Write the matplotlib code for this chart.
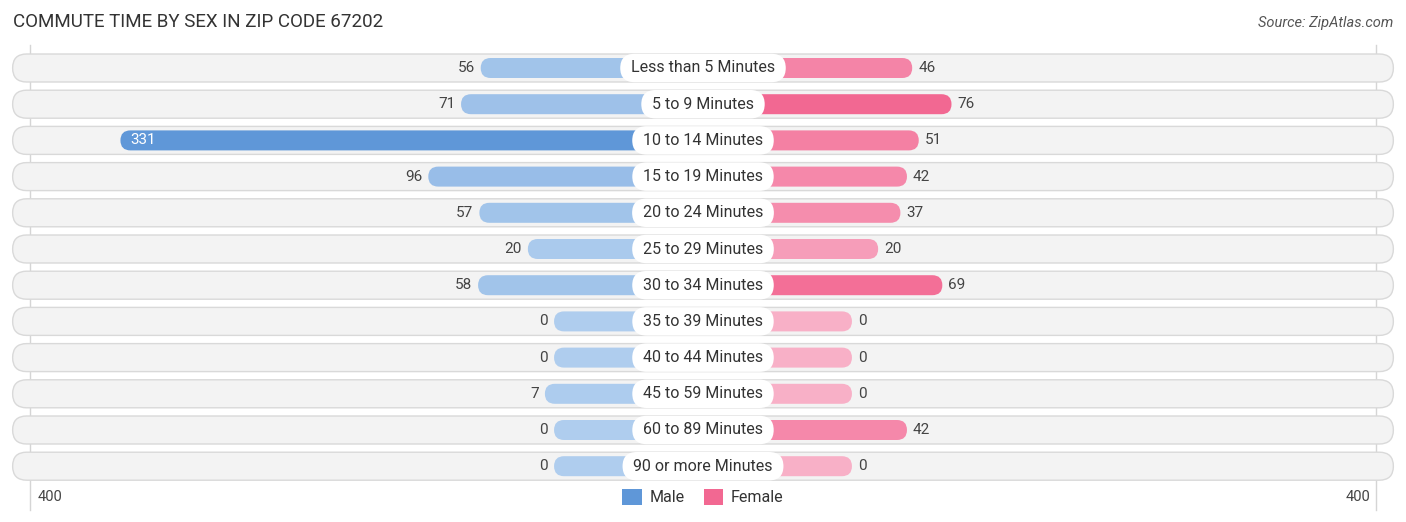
import matplotlib
matplotlib.use('Agg')
import matplotlib.pyplot as plt
from matplotlib.patches import FancyBboxPatch, Patch
import matplotlib.colors as mcolors
import numpy as np

plt.rcParams['font.family'] = ['Roboto', 'DejaVu Sans']

categories = ['Less than 5 Minutes', '5 to 9 Minutes', '10 to 14 Minutes', '15 to 19 Minutes',
              '20 to 24 Minutes', '25 to 29 Minutes', '30 to 34 Minutes', '35 to 39 Minutes',
              '40 to 44 Minutes', '45 to 59 Minutes', '60 to 89 Minutes', '90 or more Minutes']
male = [56, 71, 331, 96, 57, 20, 58, 0, 0, 7, 0, 0]
female = [46, 76, 51, 42, 37, 20, 69, 0, 0, 0, 42, 0]
axis_max = 400

W, H = 1406, 522
PX = 1.31          # pixels per value unit
PAD = 113.7        # min bar length (units) hidden under the label pill
HALF = (W / 2) / PX

M_LIGHT, M_STRONG = '#afcdee', '#5f97d8'
F_LIGHT, F_STRONG = '#f8b0c7', '#f26892'


def shade(light, strong, t):
    a = np.array(mcolors.to_rgb(light))
    b = np.array(mcolors.to_rgb(strong))
    return a + (b - a) * t


fig = plt.figure(figsize=(W / 100, H / 100), dpi=100)
ax = fig.add_axes([0, 0, 1, 1])
ax.set_xlim(-HALF, HALF)
ax.set_ylim(H, 0)
ax.axis('off')

row_y = [68 + i * 36.2 for i in range(len(categories))]
row_h, bar_h = 28, 20
r_px = 10
asp = PX  # y units per x unit (both measured in pixels)

# grid lines at +-400
for sgn in (-1, 1):
    ax.plot([sgn * (PAD + axis_max)] * 2, [45, 510], color='#d5d5d5', lw=1, zorder=0.5)

mmax, fmax = max(male), max(female)
for i, (cat, m, f) in enumerate(zip(categories, male, female)):
    yc = row_y[i]
    bg_half = 527
    bg = FancyBboxPatch((-bg_half, yc - row_h / 2), 2 * bg_half, row_h,
                        boxstyle=f'round,pad=0,rounding_size={row_h / 2 / PX}',
                        mutation_aspect=asp, fc='#f3f3f3', ec='#d9d9d9', lw=1, zorder=1)
    ax.add_patch(bg)

    ml = PAD + m
    mb = FancyBboxPatch((-ml, yc - bar_h / 2), ml, bar_h,
                        boxstyle=f'round,pad=0,rounding_size={r_px / PX}',
                        mutation_aspect=asp, fc=shade(M_LIGHT, M_STRONG, m / mmax),
                        ec='none', zorder=2)
    ax.add_patch(mb)
    fl = PAD + f
    fb = FancyBboxPatch((0, yc - bar_h / 2), fl, bar_h,
                        boxstyle=f'round,pad=0,rounding_size={r_px / PX}',
                        mutation_aspect=asp, fc=shade(F_LIGHT, F_STRONG, f / fmax),
                        ec='none', zorder=2)
    ax.add_patch(fb)

    if m > 250:
        ax.text(-ml + 10 / PX, yc, str(m), ha='left', va='center', fontsize=11,
                color='white', zorder=4)
    else:
        ax.text(-ml - 6 / PX, yc, str(m), ha='right', va='center', fontsize=11,
                color='#444444', zorder=4)
    ax.text(fl + 6 / PX, yc, str(f), ha='left', va='center', fontsize=11,
            color='#444444', zorder=4)

    ax.text(0, yc, ' ' + cat + ' ', ha='center', va='center', fontsize=11.5, color='#333333',
            zorder=5,
            bbox=dict(boxstyle='round,pad=0.42,rounding_size=0.9', fc='white', ec='none'))

# title and source
ax.text(13 / PX - HALF, 22, 'COMMUTE TIME BY SEX IN ZIP CODE 67202', ha='left', va='center',
        fontsize=13.5, color='#333333')
ax.text(HALF - 13 / PX, 23, 'Source: ZipAtlas.com', ha='right', va='center',
        fontsize=10.5, color='#555555', style='italic')

# axis end labels
ax.text(-(PAD + axis_max) + 8 / PX, 497, str(axis_max), ha='left', va='center',
        fontsize=10.5, color='#444444')
ax.text((PAD + axis_max) - 6 / PX, 497, str(axis_max), ha='right', va='center',
        fontsize=10.5, color='#444444')

handles = [Patch(fc=M_STRONG, ec='none', label='Male'),
           Patch(fc=F_STRONG, ec='none', label='Female')]
ax.legend(handles=handles, loc='center', bbox_to_anchor=(0.5, 1 - 497 / H), ncol=2,
          frameon=False, fontsize=11.5, handlelength=1.2, handleheight=1.2,
          handletextpad=0.5, columnspacing=1.2, labelcolor='#333333')

fig.savefig('out.png', dpi=100)
